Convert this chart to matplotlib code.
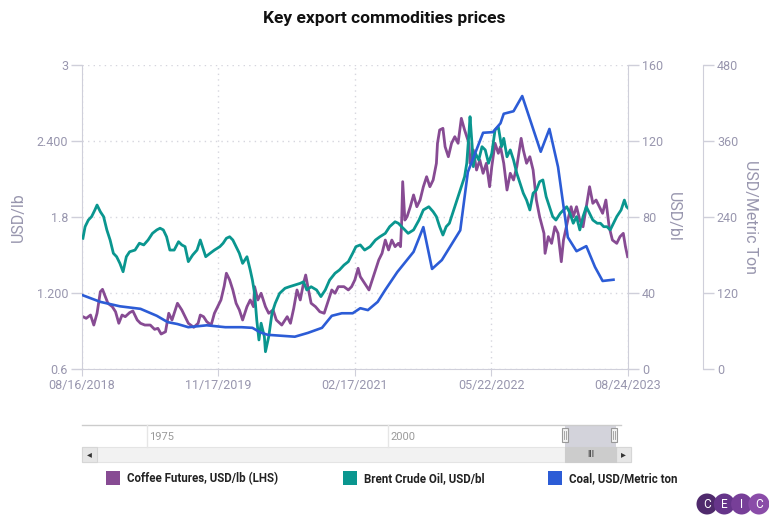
"""
Preços das principais commodities de exportação (réplica do gráfico CEIC).
"""

import pandas as pd
import matplotlib.pyplot as plt
import matplotlib.dates as mdates
from matplotlib.patches import Rectangle, Circle
from matplotlib.ticker import FixedLocator, FixedFormatter


# ---------------------------------------------------------------------
# 1. Dados (datas em anos decimais)
# ---------------------------------------------------------------------

ANOS_CAFE = [
    2018.63, 2018.66, 2018.70, 2018.73, 2018.76, 2018.79, 2018.81, 2018.83,
    2018.86, 2018.90, 2018.93, 2018.96, 2018.99, 2019.02, 2019.06, 2019.09,
    2019.13, 2019.16, 2019.20, 2019.25, 2019.29, 2019.32, 2019.35, 2019.39,
    2019.42, 2019.45, 2019.50, 2019.54, 2019.57, 2019.60, 2019.65, 2019.69,
    2019.71, 2019.74, 2019.77, 2019.81, 2019.84, 2019.87, 2019.90, 2019.93,
    2019.95, 2019.98, 2020.01, 2020.04, 2020.07, 2020.10, 2020.14, 2020.17,
    2020.20, 2020.21, 2020.24, 2020.27, 2020.31, 2020.34, 2020.38, 2020.41,
    2020.46, 2020.51, 2020.54, 2020.57, 2020.60, 2020.63, 2020.66, 2020.68,
    2020.70, 2020.73, 2020.77, 2020.81, 2020.85, 2020.89, 2020.92, 2020.95,
    2020.98, 2021.03, 2021.07, 2021.10, 2021.13, 2021.16, 2021.18, 2021.22,
    2021.26, 2021.29, 2021.32, 2021.35, 2021.38, 2021.41, 2021.44, 2021.47,
    2021.50, 2021.53, 2021.55, 2021.56, 2021.57, 2021.59, 2021.61, 2021.64,
    2021.67, 2021.70, 2021.73, 2021.76, 2021.79, 2021.82, 2021.85, 2021.88,
    2021.89, 2021.91, 2021.94, 2021.96, 2021.99, 2022.02, 2022.05, 2022.08,
    2022.11, 2022.14, 2022.18, 2022.19, 2022.22, 2022.25, 2022.28, 2022.31,
    2022.34, 2022.37, 2022.39, 2022.42, 2022.45, 2022.47, 2022.50, 2022.53,
    2022.56, 2022.59, 2022.62, 2022.66, 2022.68, 2022.71, 2022.74, 2022.77,
    2022.80, 2022.83, 2022.87, 2022.88, 2022.91, 2022.94, 2022.97, 2023.00,
    2023.03, 2023.05, 2023.09, 2023.12, 2023.14, 2023.17, 2023.20, 2023.23,
    2023.26, 2023.29, 2023.32, 2023.35, 2023.38, 2023.41, 2023.44, 2023.47,
    2023.50, 2023.54, 2023.57, 2023.60, 2023.62, 2023.64,
]
VALORES_CAFE = [
    1.013, 1.000, 1.026, 0.947, 1.040, 1.210, 1.229, 1.184,
    1.119, 1.092, 1.052, 0.961, 1.026, 1.013, 1.045, 1.058,
    0.987, 0.961, 0.947, 0.947, 0.913, 0.921, 0.876, 0.894,
    1.040, 0.987, 1.119, 1.066, 1.013, 0.961, 0.929, 0.961,
    1.026, 1.013, 0.973, 0.947, 1.040, 1.092, 1.145, 1.255,
    1.356, 1.303, 1.224, 1.119, 1.066, 0.987, 1.092, 1.145,
    1.092, 1.250, 1.145, 1.198, 1.092, 1.040, 1.066, 0.987,
    0.947, 1.013, 0.961, 1.079, 1.224, 1.145, 1.277, 1.342,
    1.250, 1.119, 1.092, 1.052, 1.040, 1.145, 1.224, 1.198,
    1.250, 1.250, 1.224, 1.250, 1.303, 1.395, 1.329, 1.277,
    1.224, 1.303, 1.382, 1.461, 1.513, 1.618, 1.540, 1.618,
    1.566, 1.592, 1.566, 1.750, 2.079, 1.776, 1.802, 1.881,
    1.974, 1.881, 1.934, 2.039, 2.118, 2.039, 2.092, 2.224,
    2.382, 2.487, 2.500, 2.355, 2.276, 2.382, 2.434, 2.382,
    2.579, 2.487, 2.382, 2.224, 2.329, 2.171, 2.250, 2.145,
    2.224, 2.039, 2.197, 2.382, 2.303, 2.355, 2.224, 2.013,
    2.145, 2.092, 2.197, 2.421, 2.329, 2.224, 2.276, 2.171,
    1.934, 1.802, 1.671, 1.513, 1.645, 1.592, 1.723, 1.671,
    1.447, 1.618, 1.776, 1.881, 1.802, 1.881, 1.776, 1.723,
    1.881, 2.039, 1.908, 1.934, 1.881, 1.829, 1.934, 1.723,
    1.618, 1.592, 1.645, 1.671, 1.566, 1.487,
]

ANOS_BRENT = [
    2018.63, 2018.65, 2018.68, 2018.71, 2018.74, 2018.76, 2018.79, 2018.82,
    2018.85, 2018.88, 2018.91, 2018.94, 2018.97, 2019.00, 2019.03, 2019.06,
    2019.11, 2019.15, 2019.19, 2019.23, 2019.27, 2019.31, 2019.34, 2019.37,
    2019.40, 2019.43, 2019.47, 2019.51, 2019.54, 2019.57, 2019.60, 2019.64,
    2019.68, 2019.71, 2019.73, 2019.76, 2019.80, 2019.84, 2019.89, 2019.92,
    2019.95, 2019.98, 2020.01, 2020.04, 2020.07, 2020.10, 2020.14, 2020.17,
    2020.19, 2020.21, 2020.23, 2020.25, 2020.27, 2020.30, 2020.31, 2020.34,
    2020.37, 2020.40, 2020.44, 2020.49, 2020.53, 2020.58, 2020.63, 2020.66,
    2020.69, 2020.73, 2020.78, 2020.82, 2020.86, 2020.90, 2020.95, 2020.99,
    2021.03, 2021.07, 2021.11, 2021.14, 2021.18, 2021.22, 2021.27, 2021.32,
    2021.36, 2021.41, 2021.45, 2021.50, 2021.53, 2021.56, 2021.59, 2021.62,
    2021.67, 2021.72, 2021.76, 2021.81, 2021.85, 2021.88, 2021.91, 2021.94,
    2021.97, 2022.00, 2022.03, 2022.06, 2022.09, 2022.12, 2022.14, 2022.16,
    2022.18, 2022.19, 2022.21, 2022.22, 2022.24, 2022.27, 2022.30, 2022.33,
    2022.36, 2022.39, 2022.42, 2022.45, 2022.48, 2022.50, 2022.53, 2022.56,
    2022.59, 2022.62, 2022.65, 2022.68, 2022.71, 2022.74, 2022.77, 2022.80,
    2022.83, 2022.86, 2022.89, 2022.92, 2022.95, 2022.98, 2023.02, 2023.05,
    2023.08, 2023.11, 2023.14, 2023.17, 2023.20, 2023.23, 2023.26, 2023.29,
    2023.32, 2023.36, 2023.39, 2023.42, 2023.45, 2023.48, 2023.51, 2023.54,
    2023.58, 2023.61, 2023.63, 2023.645,
]
VALORES_BRENT = [
    68.8, 74.9, 78.4, 80.2, 83.7, 86.3, 82.8, 80.2,
    73.2, 67.9, 60.9, 59.1, 55.6, 51.2, 59.1, 61.7,
    62.6, 66.2, 65.3, 67.9, 71.4, 73.2, 74.1, 73.2,
    69.6, 62.6, 62.6, 67.0, 65.3, 64.4, 56.5, 60.0,
    62.6, 67.9, 64.4, 59.1, 60.9, 62.6, 64.4, 66.2,
    68.8, 69.6, 67.9, 64.4, 60.9, 55.6, 59.1, 52.1,
    46.8, 39.8, 25.8, 15.3, 24.1, 17.0, 9.1, 17.0,
    29.3, 34.6, 39.8, 42.5, 43.3, 44.2, 45.1, 45.9,
    41.6, 43.3, 41.6, 38.1, 41.6, 46.8, 50.4, 52.1,
    54.7, 56.5, 60.9, 64.4, 65.3, 62.6, 64.4, 67.9,
    69.6, 71.4, 74.9, 77.5, 76.7, 74.9, 73.2, 71.4,
    73.2, 78.4, 83.7, 85.4, 82.8, 80.2, 74.9, 70.5,
    74.9, 76.7, 81.9, 87.2, 92.5, 97.7, 101.2, 108.3,
    124.0, 132.8, 117.0, 106.5, 113.5, 110.0, 117.0, 115.3,
    108.3, 113.5, 125.8, 127.5, 117.0, 121.4, 111.7, 115.3,
    110.0, 103.0, 97.7, 92.5, 88.9, 83.7, 92.5, 94.2,
    98.6, 99.5, 90.7, 85.4, 80.2, 78.4, 81.9, 83.7,
    85.4, 81.9, 76.7, 80.2, 73.2, 80.2, 85.4, 81.9,
    78.4, 76.7, 76.7, 74.9, 74.9, 73.2, 76.7, 80.2,
    83.7, 88.9, 85.4, 84.6,
]

ANOS_CARVAO = [
    2018.62, 2018.79, 2018.97, 2019.16, 2019.31, 2019.41, 2019.50, 2019.60,
    2019.77, 2019.94, 2020.09, 2020.19, 2020.26, 2020.33, 2020.58, 2020.70,
    2020.83, 2020.92, 2021.01, 2021.11, 2021.18, 2021.25, 2021.34, 2021.41,
    2021.52, 2021.67, 2021.76, 2021.84, 2021.93, 2022.10, 2022.17, 2022.31,
    2022.40, 2022.47, 2022.50, 2022.59, 2022.67, 2022.84, 2022.92, 2023.00,
    2023.09, 2023.17, 2023.26, 2023.34, 2023.41, 2023.51,
]
VALORES_CARVAO = [
    117, 106, 99, 95, 84, 74, 71, 66,
    69, 66, 66, 65, 58, 54, 51, 57,
    65, 84, 88, 88, 96, 93, 106, 125,
    153, 185, 224, 158, 172, 219, 311, 373,
    374, 388, 403, 407, 431, 343, 379, 319,
    208, 186, 194, 161, 139, 141,
]

DATAS_EIXO = ["2018-08-16", "2019-11-17", "2021-02-17", "2022-05-22", "2023-08-24"]
TICKS_LB = [0.6, 1.2, 1.8, 2.4, 3.0]
ROTULOS_LB = ["0.6", "1.200", "1.8", "2.400", "3"]
TICKS_BL = [0, 40, 80, 120, 160]
TICKS_TON = [0, 120, 240, 360, 480]
ANOS_NAVEGADOR = ["1975", "2000"]

SERIES = [
    "Coffee Futures, USD/lb (LHS)",
    "Brent Crude Oil, USD/bl",
    "Coal, USD/Metric ton",
]
CORES = ["#874B93", "#0A968F", "#2C5CD6"]

COR_TEXTO = "#9896AE"
COR_EIXO = "#CFCFDA"
COR_GRELHA = "#D6D6DE"

plt.rcParams["font.family"] = ["Roboto", "DejaVu Sans"]


# ---------------------------------------------------------------------
# 2. Funções auxiliares
# ---------------------------------------------------------------------

def anos_para_datas(anos):
    """Converte anos decimais em Timestamps."""
    datas = []
    for a in anos:
        ano = int(a)
        datas.append(pd.Timestamp(ano, 1, 1) + pd.Timedelta(days=(a - ano) * 365.25))
    return datas


def estilo_eixo_y(eixo, lado):
    eixo.tick_params(axis="y", which="both", direction="out", length=8,
                     width=1, color=COR_EIXO, labelcolor=COR_TEXTO,
                     labelsize=9, pad=2)
    for nome, spine in eixo.spines.items():
        spine.set_visible(nome == lado)
        spine.set_color(COR_EIXO)


# ---------------------------------------------------------------------
# 3. Figura principal
# ---------------------------------------------------------------------

fig = plt.figure(figsize=(7.69, 5.25), dpi=100)
W, H = 769, 525

ax = fig.add_axes([82 / W, 1 - 369 / H, 546 / W, 304 / H])
ax.set_facecolor("none")

ax.plot(anos_para_datas(ANOS_CAFE), VALORES_CAFE, color=CORES[0], lw=2.0)
ax.set_ylim(0.6, 3.0)
ax.yaxis.set_major_locator(FixedLocator(TICKS_LB))
ax.yaxis.set_major_formatter(FixedFormatter(ROTULOS_LB))
estilo_eixo_y(ax, "left")
ax.spines["bottom"].set_visible(True)
ax.spines["bottom"].set_color(COR_EIXO)
ax.set_ylabel("USD/lb", color=COR_TEXTO, fontsize=11.5, labelpad=8)

datas_ticks = pd.to_datetime(DATAS_EIXO)
ax.set_xlim(datas_ticks[0], datas_ticks[-1])
ax.set_xticks(datas_ticks)
ax.xaxis.set_major_formatter(mdates.DateFormatter("%m/%d/%Y"))
ax.tick_params(axis="x", length=5, color=COR_EIXO, labelcolor=COR_TEXTO,
               labelsize=9, pad=2)

ax.grid(True, color=COR_GRELHA, linestyle=(0, (1, 3)), linewidth=1)

ax2 = ax.twinx()
ax2.plot(anos_para_datas(ANOS_BRENT), VALORES_BRENT, color=CORES[1], lw=2.0)
ax2.set_ylim(0, 160)
ax2.set_yticks(TICKS_BL)
estilo_eixo_y(ax2, "right")
ax2.set_ylabel("USD/bl", color=COR_TEXTO, fontsize=11.5, rotation=270,
               labelpad=13)

ax3 = ax.twinx()
ax3.plot(anos_para_datas(ANOS_CARVAO), VALORES_CARVAO, color=CORES[2], lw=1.9)
ax3.set_ylim(0, 480)
ax3.set_yticks(TICKS_TON)
estilo_eixo_y(ax3, "right")
ax3.spines["right"].set_position(("axes", 1.1374))
ax3.set_ylabel("USD/Metric Ton", color=COR_TEXTO, fontsize=11.5,
               rotation=270, labelpad=14)

fig.text(0.5, 1 - 18 / H, "Key export commodities prices", ha="center",
         va="center", fontsize=12.5, fontweight="bold", color="#111111")


# ---------------------------------------------------------------------
# 4. Navegador, legenda e logótipo (coordenadas em píxeis)
# ---------------------------------------------------------------------

ui = fig.add_axes([0, 0, 1, 1])
ui.set_xlim(0, W)
ui.set_ylim(H, 0)
ui.axis("off")

# faixa do navegador
ui.plot([82, 621], [425, 425], color="#CCCCCC", lw=1)
for x, rotulo in zip([147, 388], ANOS_NAVEGADOR):
    ui.plot([x, x], [425, 447], color="#E6E6E6", lw=1)
    ui.text(x + 2, 437, rotulo, fontsize=8, color="#9A9A9A", va="center")
ui.add_patch(Rectangle((565, 425), 51, 22, facecolor="#C9C9D3",
                       edgecolor="none", alpha=0.8))
for x in [565, 614]:
    ui.add_patch(Rectangle((x - 3, 428), 6, 14, facecolor="#F2F2F2",
                           edgecolor="#999999", lw=0.8))
    ui.plot([x - 0.7, x - 0.7], [431, 439], color="#999999", lw=0.6)
    ui.plot([x + 0.7, x + 0.7], [431, 439], color="#999999", lw=0.6)

# barra de deslocamento
ui.add_patch(Rectangle((82, 447), 549, 15, facecolor="#F2F2F2",
                       edgecolor="#E4E4E4", lw=0.8))
ui.add_patch(Rectangle((82, 447), 15, 15, facecolor="#E6E6E6",
                       edgecolor="#D6D6D6", lw=0.8))
ui.add_patch(Rectangle((616, 447), 15, 15, facecolor="#E6E6E6",
                       edgecolor="#D6D6D6", lw=0.8))
ui.add_patch(Rectangle((565, 447), 51, 15, facecolor="#CCCCCC",
                       edgecolor="#CCCCCC", lw=0.8))
ui.text(89.5, 454.5, "◂", fontsize=7, color="#333333", ha="center",
        va="center", family="DejaVu Sans")
ui.text(623.5, 454.5, "▸", fontsize=7, color="#333333", ha="center",
        va="center", family="DejaVu Sans")
ui.text(590.5, 454.5, "III", fontsize=6.5, color="#333333", ha="center",
        va="center")

# legenda
for x, nome, cor in zip([106, 343, 548], SERIES, CORES):
    ui.add_patch(Rectangle((x, 471), 14, 14, facecolor=cor,
                           edgecolor="none"))
    ui.text(x + 21, 478.5, nome, fontsize=8.3, fontweight="bold",
            color="#222222", va="center")

# logótipo CEIC
cores_logo = ["#4F2A6C", "#66358A", "#773F98", "#8A4CA8"]
for i, (letra, cor) in enumerate(zip("CEIC", cores_logo)):
    cx = 707 + i * 17.3
    ui.add_patch(Circle((cx, 504), 10.5, facecolor=cor, edgecolor="none",
                        zorder=2 + i))
    ui.text(cx, 504.5, letra, fontsize=8.5, color="white", ha="center",
            va="center", zorder=10)

fig.savefig("out.png", dpi=100)
